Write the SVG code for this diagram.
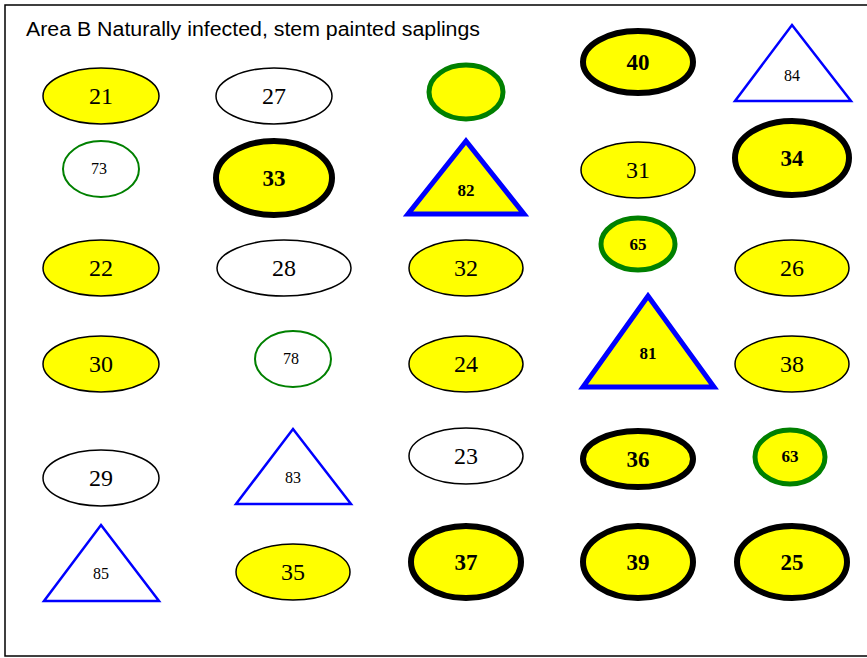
<svg xmlns="http://www.w3.org/2000/svg" width="867" height="658" viewBox="0 0 867 658">
<style>
.frame{fill:#fff;stroke:#000;stroke-width:1.5}
.y{fill:#ffff00;stroke:#000;stroke-width:1.5}
.w{fill:#fff;stroke:#000;stroke-width:1.5}
.yk{fill:#ffff00;stroke:#000;stroke-width:6}
.gw{fill:#fff;stroke:#008000;stroke-width:2}
.gy{fill:#ffff00;stroke:#008000;stroke-width:5}
.tw{fill:#fff;stroke:#0000ff;stroke-width:2.5}
.ty{fill:#ffff00;stroke:#0000ff;stroke-width:5}
text{font-family:"Liberation Serif","Times New Roman",serif;text-anchor:middle;fill:#000}
.n{font-size:24px}
.s{font-size:16px}
.b{font-size:23px;font-weight:bold}
.bs{font-size:17px;font-weight:bold}
.title{font-family:"Liberation Sans",Arial,sans-serif;font-size:20px;text-anchor:start}
</style>
<rect class="frame" x="5" y="5" width="870" height="651"/>
<text class="title" x="26" y="36" textLength="454" lengthAdjust="spacingAndGlyphs">Area B Naturally infected, stem painted saplings</text>
<g id="connectors"/>
<g id="n21"><ellipse class="y" cx="101" cy="96" rx="58" ry="28"/><text class="n" x="101" y="104">21</text></g>
<g id="n27"><ellipse class="w" cx="274" cy="96" rx="58" ry="28"/><text class="n" x="274" y="104">27</text></g>
<g id="nblank"><ellipse class="gy" cx="466" cy="92" rx="37" ry="27"/></g>
<g id="n40"><ellipse class="yk" cx="638" cy="62" rx="55" ry="31"/><text class="b" x="638" y="70">40</text></g>
<g id="n84"><polygon class="tw" points="792,25 851,101 735,101"/><text class="s" x="792" y="81">84</text></g>

<g id="n73"><ellipse class="gw" cx="101" cy="169" rx="38" ry="28"/><text class="s" x="99" y="174">73</text></g>
<g id="n33"><ellipse class="yk" cx="274" cy="178" rx="58" ry="37"/><text class="b" x="274" y="186">33</text></g>
<g id="n82"><polygon class="ty" points="466,141 524,214 408,214"/><text class="bs" x="466" y="196">82</text></g>
<g id="n31"><ellipse class="y" cx="638" cy="170" rx="57" ry="28"/><text class="n" x="638" y="178">31</text></g>
<g id="n34"><ellipse class="yk" cx="792" cy="158" rx="57" ry="37"/><text class="b" x="792" y="166">34</text></g>

<g id="n22"><ellipse class="y" cx="101" cy="268" rx="58" ry="28"/><text class="n" x="101" y="276">22</text></g>
<g id="n28"><ellipse class="w" cx="284" cy="268" rx="67" ry="28"/><text class="n" x="284" y="276">28</text></g>
<g id="n32"><ellipse class="y" cx="466" cy="268" rx="57" ry="28"/><text class="n" x="466" y="276">32</text></g>
<g id="n65"><ellipse class="gy" cx="638" cy="244" rx="37" ry="26"/><text class="bs" x="638" y="250">65</text></g>
<g id="n26"><ellipse class="y" cx="792" cy="268" rx="57" ry="28"/><text class="n" x="792" y="276">26</text></g>

<g id="n30"><ellipse class="y" cx="101" cy="364" rx="58" ry="28"/><text class="n" x="101" y="372">30</text></g>
<g id="n78"><ellipse class="gw" cx="293" cy="359" rx="38" ry="28"/><text class="s" x="291" y="364">78</text></g>
<g id="n24"><ellipse class="y" cx="466" cy="364" rx="57" ry="28"/><text class="n" x="466" y="372">24</text></g>
<g id="n81"><polygon class="ty" points="648,296 714,387 583,387"/><text class="bs" x="648" y="359">81</text></g>
<g id="n38"><ellipse class="y" cx="792" cy="364" rx="57" ry="28"/><text class="n" x="792" y="372">38</text></g>

<g id="n29"><ellipse class="w" cx="101" cy="478" rx="58" ry="28"/><text class="n" x="101" y="486">29</text></g>
<g id="n83"><polygon class="tw" points="293,429 351,504 236,504"/><text class="s" x="293" y="483">83</text></g>
<g id="n23"><ellipse class="w" cx="466" cy="456" rx="57" ry="28"/><text class="n" x="466" y="464">23</text></g>
<g id="n36"><ellipse class="yk" cx="638" cy="459" rx="55" ry="28"/><text class="b" x="638" y="467">36</text></g>
<g id="n63"><ellipse class="gy" cx="790" cy="457" rx="35" ry="27"/><text class="bs" x="790" y="462">63</text></g>

<g id="n85"><polygon class="tw" points="101,525 159,601 44,601"/><text class="s" x="101" y="579">85</text></g>
<g id="n35"><ellipse class="y" cx="293" cy="572" rx="57" ry="28"/><text class="n" x="293" y="580">35</text></g>
<g id="n37"><ellipse class="yk" cx="466" cy="562" rx="55" ry="36"/><text class="b" x="466" y="570">37</text></g>
<g id="n39"><ellipse class="yk" cx="638" cy="562" rx="55" ry="36"/><text class="b" x="638" y="570">39</text></g>
<g id="n25"><ellipse class="yk" cx="792" cy="562" rx="55" ry="36"/><text class="b" x="792" y="570">25</text></g>
</svg>
